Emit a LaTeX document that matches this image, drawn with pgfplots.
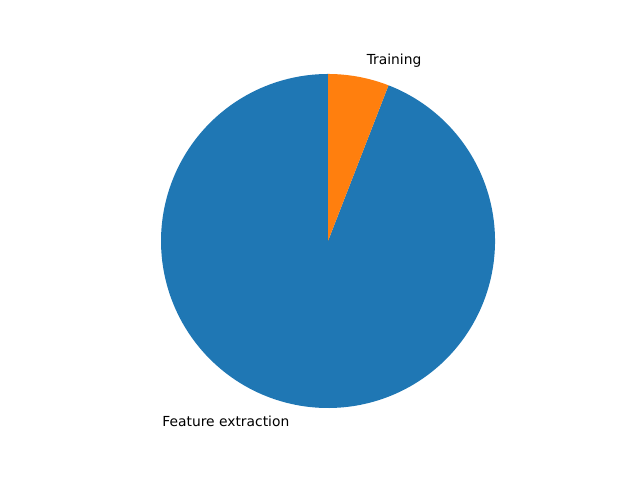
\documentclass[border=0pt]{standalone}
\usepackage{pgfplots}
\pgfplotsset{compat=1.18}
\usepackage{fontspec}
\setmainfont{DejaVu Sans}
\definecolor{mblue}{HTML}{1F77B4}
\definecolor{morange}{HTML}{FF7F0E}
% values (percent)
\def\featval{94.1}
\def\trainval{5.9}
\begin{document}
\begin{tikzpicture}
\pgfmathsetmacro{\angA}{90}
\pgfmathsetmacro{\angB}{90+\featval*3.6}
\pgfmathsetmacro{\angC}{\angB+\trainval*3.6}
\pgfmathsetmacro{\midA}{(\angA+\angB)/2}
\pgfmathsetmacro{\midB}{(\angB+\angC)/2}
\begin{axis}[scale only axis, width=6.4in, height=4.8in,
  xmin=-1.964, xmax=1.868, ymin=-1.431, ymax=1.443,
  hide axis, clip=false]
\addplot[fill=mblue, draw=none, domain=\angA:\angB, samples=200, variable=\t]
  ({cos(\t)},{sin(\t)}) -- (axis cs:0,0) -- cycle;
\addplot[fill=morange, draw=none, domain=\angB:\angC, samples=30, variable=\t]
  ({cos(\t)},{sin(\t)}) -- (axis cs:0,0) -- cycle;
\node[anchor=west, font=\fontsize{10}{12}\selectfont] at (axis cs:{1.1*cos(\midB)},{1.1*sin(\midB)}) {Training};
\node[anchor=east, font=\fontsize{10}{12}\selectfont] at (axis cs:{1.1*cos(\midA)},{1.1*sin(\midA)}) {Feature extraction};
\path (rel axis cs:0,0) (rel axis cs:1,1);
\end{axis}
\end{tikzpicture}
\end{document}
